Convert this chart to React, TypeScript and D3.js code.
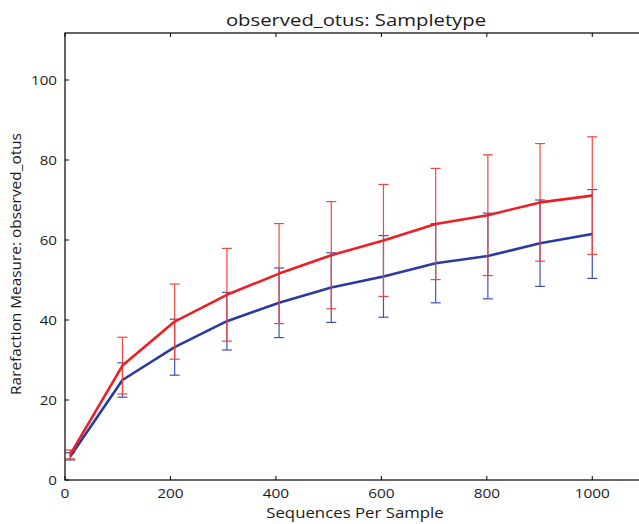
import React from 'react';
import * as d3 from 'd3';

// rarefaction depths
const depths = [10, 109, 208, 307, 406, 505, 604, 703, 802, 901, 1000];

// mean observed otus and std dev per sample type
const blueMeans = [5.9, 25.0, 33.2, 39.7, 44.3, 48.1, 50.9, 54.2, 56.0, 59.2, 61.5];
const blueErrs = [0.9, 4.3, 7.0, 7.2, 8.7, 8.7, 10.2, 9.9, 10.7, 10.8, 11.1];
const redMeans = [6.4, 28.6, 39.6, 46.3, 51.6, 56.2, 59.9, 64.0, 66.2, 69.4, 71.1];
const redErrs = [1.1, 7.1, 9.4, 11.6, 12.5, 13.4, 14.0, 13.9, 15.1, 14.7, 14.7];

const xTicks = [0, 200, 400, 600, 800, 1000];
const yTicks = [0, 20, 40, 60, 80, 100];

const title = 'observed_otus: Sampletype';
const xLabel = 'Sequences Per Sample';
const yLabel = 'Rarefaction Measure: observed_otus';

const W = 639;
const H = 524;
const margin = { top: 33, left: 65, bottom: 44 };
const font = '"Open Sans", "DejaVu Sans", sans-serif';

// text stretched a bit wider, the source image is squashed that way
const T = ({ x, y, sx = 1, rot = 0, anchor = 'middle', size, children }: any) => (
  <text
    transform={`translate(${x}, ${y}) rotate(${rot}) scale(${sx}, 1)`}
    textAnchor={anchor}
    fontSize={size}
    fill="#1a1a1a"
  >
    {children}
  </text>
);

const App = () => {
  const x = d3.scaleLinear().domain([0, 1100]).range([margin.left, margin.left + 580]);
  const y = d3.scaleLinear().domain([0, 111.75]).range([H - margin.bottom, margin.top]);
  const x0 = x(0), x1 = x(1100), y0 = y(0), y1 = y(111.75);
  const tick = 4;
  const cap = 5;

  const line = d3.line<number>()
    .x((_, i) => x(depths[i]))
    .y(d => y(d));

  const series = [
    { means: blueMeans, errs: blueErrs, line: '#2a3ba0', bar: '#3f51b5' },
    { means: redMeans, errs: redErrs, line: '#ec1f24', bar: '#f0473f' },
  ];

  return (
    <div style={{ position: 'absolute', left: 0, top: 0 }}>
      <svg width={W} height={H} style={{ display: 'block', background: '#fff' }} fontFamily={font}>
        {series.map((s, k) => (
          <g key={k}>
            {depths.map((d, i) => {
              const cx = x(d);
              const top = y(s.means[i] + s.errs[i]);
              const bot = y(s.means[i] - s.errs[i]);
              return (
                <g key={i} stroke={s.bar} strokeWidth={1.2}>
                  <line x1={cx} x2={cx} y1={top} y2={bot} />
                  <line x1={cx - cap} x2={cx + cap} y1={top} y2={top} />
                  <line x1={cx - cap} x2={cx + cap} y1={bot} y2={bot} />
                </g>
              );
            })}
            <path d={line(s.means) ?? ''} fill="none" stroke={s.line} strokeWidth={2.6} strokeLinejoin="round" />
          </g>
        ))}

        {/* frame */}
        <rect x={x0} y={y1} width={x1 - x0} height={y0 - y1} fill="none" stroke="#000" strokeWidth={1.2} />

        {xTicks.map(t => (
          <g key={t}>
            <line x1={x(t)} x2={x(t)} y1={y0} y2={y0 - tick} stroke="#000" />
            <line x1={x(t)} x2={x(t)} y1={y1} y2={y1 + tick} stroke="#000" />
            <T x={x(t)} y={y0 + 18} sx={1.14} size={13.5}>{t}</T>
          </g>
        ))}
        {yTicks.map(t => (
          <g key={t}>
            <line x1={x0} x2={x0 + tick} y1={y(t)} y2={y(t)} stroke="#000" />
            <line x1={x1} x2={x1 - tick} y1={y(t)} y2={y(t)} stroke="#000" />
            <T x={x0 - 8} y={y(t) + 5} sx={1.12} anchor="end" size={13.5}>{t}</T>
          </g>
        ))}

        <T x={(x0 + x1) / 2 + 1} y={26} sx={1.23} size={16.5}>{title}</T>
        <T x={(x0 + x1) / 2} y={518} sx={1.2} size={14}>{xLabel}</T>
        <T x={21} y={264} rot={-90} sx={1.1} size={14}>{yLabel}</T>
      </svg>
    </div>
  );
};

export default App;
